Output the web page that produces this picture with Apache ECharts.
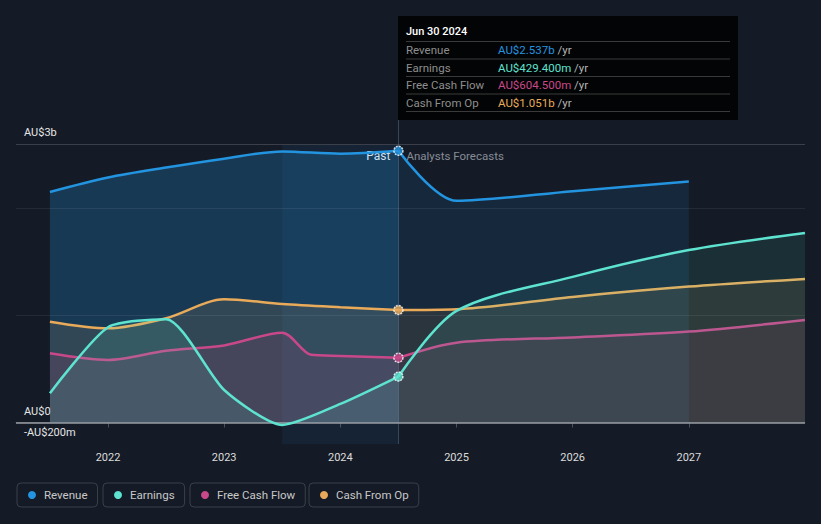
<!DOCTYPE html>
<html><head><meta charset="utf-8">
<script src="https://cdn.jsdelivr.net/npm/echarts@6/dist/echarts.min.js"></script>
<style>html,body{margin:0;padding:0;background:#151b26;}#c{width:821px;height:524px;}</style>
</head><body><div id="c"></div>
<script>
// ---- data (AU$ billions, x = decimal year) ----
const pastYears      = [2021.5, 2022.0, 2022.5, 2023.0, 2023.5, 2024.0, 2024.5];
const revenuePast    = [2.152, 2.287, 2.380, 2.463, 2.531, 2.510, 2.537];
const earningsPast   = [0.274, 0.890, 0.965, 0.304, -0.022, 0.174, 0.4294];
const cfoPast        = [0.942, 0.880, 0.974, 1.151, 1.107, 1.077, 1.051];
const fcfPastYears   = [2021.5, 2022.0, 2022.5, 2023.0, 2023.5, 2023.75, 2024.0, 2024.5];
const fcfPast        = [0.647, 0.585, 0.671, 0.720, 0.839, 0.632, 0.622, 0.6045];

const revenueForecastYears = [2024.5, 2025.0, 2026.0, 2027.0];
const revenueForecast      = [2.537, 2.070, 2.160, 2.250];
const forecastYears        = [2024.5, 2025.0, 2026.0, 2027.0, 2028.0];
const earningsForecast     = [0.4294, 1.042, 1.360, 1.610, 1.770];
const cfoForecast          = [1.051, 1.058, 1.173, 1.269, 1.341];
const fcfForecast          = [0.6045, 0.746, 0.795, 0.849, 0.958];

const xTickValues = [2022, 2023, 2024, 2025, 2026, 2027];
const yTickValues = [-0.2, 0, 2.6];
const yTickLabels = ['-AU$200m', 'AU$0', 'AU$3b'];
const seriesNames = ['Revenue', 'Earnings', 'Free Cash Flow', 'Cash From Op'];
const tipYear = 2024.5;
const tipDate = 'Jun 30 2024';
const pastStart = 2023.5;

// ---- styling ----
const FONT = 'Roboto, "Noto Sans", sans-serif';
const colors = ['#2394e0', '#5de3cf', '#c9488a', '#e9ab5a'];
const pairs = (xs, ys) => xs.map((x, i) => [x, ys[i]]);
const fmt = v => v >= 1 ? 'AU$' + v.toFixed(3) + 'b' : 'AU$' + (v * 1000).toFixed(3) + 'm';

function line(name, color, data, areaOpacity, z, extra) {
  return Object.assign({
    type: 'line', name, data, smooth: 0.3, symbol: 'none',
    lineStyle: { color, width: 2.5 }, itemStyle: { color },
    areaStyle: { color, opacity: areaOpacity }, z, silent: true, animation: false
  }, extra || {});
}

const chart = echarts.init(document.getElementById('c'), null, { renderer: 'svg' });

const series = [
  line('Revenue', colors[0], pairs(pastYears, revenuePast), 0.25, 2, {
    markArea: {
      silent: true,
      data: [
        [{ name: 'Past', xAxis: pastStart, itemStyle: { color: 'rgba(40,140,220,0.08)' },
           label: { show: true, position: 'insideTopRight', color: '#ffffff', fontSize: 12, fontFamily: FONT, offset: [-3, 1] } },
         { xAxis: tipYear }],
        [{ name: 'Analysts Forecasts', xAxis: tipYear, itemStyle: { color: 'rgba(0,0,0,0)' },
           label: { show: true, position: 'insideTopLeft', color: '#868c96', fontSize: 11.5, fontFamily: FONT, offset: [3, 1] } },
         { xAxis: 2028 }]
      ]
    }
  }),
  line('Revenue', colors[0], pairs(revenueForecastYears, revenueForecast), 0.12, 2),
  line('Cash From Op', colors[3], pairs(pastYears, cfoPast), 0.13, 3),
  line('Cash From Op', colors[3], pairs(forecastYears, cfoForecast), 0.10, 3),
  line('Free Cash Flow', colors[2], pairs(fcfPastYears, fcfPast), 0.13, 4),
  line('Free Cash Flow', colors[2], pairs(forecastYears, fcfForecast), 0.10, 4),
  line('Earnings', colors[1], pairs(pastYears, earningsPast), 0.12, 5, { smooth: 0.22 }),
  line('Earnings', colors[1], pairs(forecastYears, earningsForecast), 0.10, 5, {
    markLine: {
      silent: true, symbol: 'none', label: { show: false }, animation: false,
      data: [
        { yAxis: 1, lineStyle: { color: 'rgba(255,255,255,0.07)', width: 1, type: 'solid' } },
        { yAxis: 2, lineStyle: { color: 'rgba(255,255,255,0.07)', width: 1, type: 'solid' } },
        { yAxis: 2.6, lineStyle: { color: '#3a3f49', width: 1, type: 'solid' } },
        { yAxis: 0, lineStyle: { color: '#9a9da3', width: 1.5, type: 'solid' } },
        { xAxis: tipYear, lineStyle: { color: 'rgba(120,150,180,0.35)', width: 1, type: 'solid' } }
      ]
    }
  }),
  {
    type: 'scatter', z: 10, silent: true, animation: false, symbolSize: 9,
    data: [
      { value: [tipYear, revenuePast[revenuePast.length - 1]], itemStyle: { color: colors[0] } },
      { value: [tipYear, earningsPast[earningsPast.length - 1]], itemStyle: { color: colors[1] } },
      { value: [tipYear, fcfPast[fcfPast.length - 1]], itemStyle: { color: colors[2] } },
      { value: [tipYear, cfoPast[cfoPast.length - 1]], itemStyle: { color: colors[3] } }
    ],
    itemStyle: { borderColor: '#ffffff', borderWidth: 1.5, borderType: [2, 1] }
  }
];

const legendLefts = [17, 103, 190, 309];
const legends = seriesNames.map((n, i) => ({
  data: [n], left: legendLefts[i], top: 483, icon: 'circle', itemWidth: 8, itemHeight: 8,
  borderColor: '#3a3f4a', borderWidth: 1, borderRadius: 4, padding: [6, 10, 6, 11],
  selectedMode: false,
  textStyle: { color: '#c8c8c8', fontSize: 11.5, fontFamily: FONT, padding: [0, 0, 0, 3] }
}));

chart.setOption({
  backgroundColor: '#151b26',
  animation: false,
  textStyle: { fontFamily: FONT },
  grid: { left: 16, right: 16, top: 144, bottom: 80, containLabel: false },
  xAxis: {
    type: 'value', min: 2021.208, max: 2028,
    axisLine: { show: true, lineStyle: { color: '#3a404a', width: 1 } },
    axisTick: { show: true, customValues: xTickValues, length: 5, lineStyle: { color: '#4a505a' } },
    axisLabel: { customValues: xTickValues, color: '#dcdcdc', fontSize: 11, margin: 8, formatter: v => String(v) },
    splitLine: { show: false }
  },
  yAxis: {
    type: 'value', min: -0.2, max: 2.6,
    axisLine: { show: false }, axisTick: { show: false }, splitLine: { show: false },
    axisLabel: {
      inside: true, customValues: yTickValues, showMinLabel: true, showMaxLabel: true,
      verticalAlign: 'bottom', color: '#e6e6e6', fontSize: 11, margin: 8, padding: [0, 0, 6, 0],
      formatter: v => yTickLabels[yTickValues.findIndex(t => Math.abs(t - v) < 1e-9)] || ''
    }
  },
  legend: legends,
  series
});

// ---- tooltip box (static) ----
const px = chart.convertToPixel({ xAxisIndex: 0, yAxisIndex: 0 }, [tipYear, 2.6]);
const tx = Math.round(px[0]), gridTop = px[1];
const tipTop = 16, tipW = 340, tipH = 104;
const rows = [
  ['Revenue', revenuePast[revenuePast.length - 1], colors[0]],
  ['Earnings', earningsPast[earningsPast.length - 1], colors[1]],
  ['Free Cash Flow', fcfPast[fcfPast.length - 1], colors[2]],
  ['Cash From Op', cfoPast[cfoPast.length - 1], colors[3]]
];
const g = [
  { type: 'line', shape: { x1: tx + 0.5, y1: tipTop + tipH, x2: tx + 0.5, y2: gridTop }, style: { stroke: 'rgba(120,150,180,0.35)', lineWidth: 1 }, silent: true },
  { type: 'rect', shape: { x: tx, y: tipTop, width: tipW, height: tipH }, style: { fill: '#030405' }, silent: true },
  { type: 'text', x: tx + 8, y: tipTop + 15, style: { text: tipDate, fill: '#ffffff', fontSize: 11, fontWeight: 500, fontFamily: FONT, verticalAlign: 'middle' }, silent: true }
];
for (let i = 0; i <= rows.length; i++) {
  const ly = tipTop + 25.5 + i * 17.5;
  g.push({ type: 'line', shape: { x1: tx + 8, y1: ly, x2: tx + tipW - 8, y2: ly }, style: { stroke: '#3a3a3a', lineWidth: 1 }, silent: true });
}
rows.forEach((r, i) => {
  const cy = tipTop + 34 + i * 17.5;
  g.push({ type: 'text', x: tx + 8, y: cy, style: { text: r[0], fill: '#8e8e8e', fontSize: 11.5, fontFamily: FONT, verticalAlign: 'middle' }, silent: true });
  g.push({ type: 'text', x: tx + 100, y: cy, style: {
    text: '{v|' + fmt(r[1]) + '}{u| /yr}', verticalAlign: 'middle', fontSize: 11.5, fontFamily: FONT,
    rich: { v: { fill: r[2], fontSize: 11.5, fontFamily: FONT }, u: { fill: '#b5b5b5', fontSize: 11.5, fontFamily: FONT } }
  }, silent: true });
});
chart.setOption({ graphic: { elements: g } });
</script>
</body></html>
